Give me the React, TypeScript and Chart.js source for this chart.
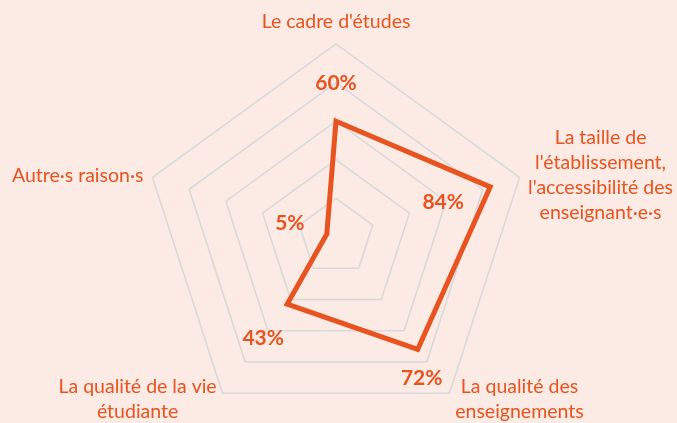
import React, { useEffect, useRef } from "react";
import { Chart, registerables } from "chart.js";

Chart.register(...registerables);

const categories: string[][] = [
  ["Le cadre d'études"],
  ["La taille de", "l'établissement,", "l'accessibilité des", "enseignant·e·s"],
  ["La qualité des", "enseignements"],
  ["La qualité de la vie", "étudiante"],
  ["Autre·s raison·s"],
];
const values: number[] = [60, 84, 72, 43, 5];
const scaleMin = 0;
const scaleMax = 100;
const scaleStep = 20;

const ORANGE = "#E8531F";
const BG = "#FCEAE4";
const GRID = "#D8D9DB";
const FONT = "Lato, 'Noto Sans', sans-serif";

// label placement (styling, not data)
const catOffsets = [
  { dx: 0, dy: -22, align: "center" },
  { dx: 81, dy: -2.5, align: "center" },
  { dx: 70, dy: 6.5, align: "center" },
  { dx: -85, dy: 6.5, align: "center" },
  { dx: -9, dy: -2, align: "right" },
];
const valOffsets = [
  { dx: 0, dy: -38 },
  { dx: -47, dy: 15 },
  { dx: 4, dy: 29 },
  { dx: -24, dy: 34 },
  { dx: -37, dy: -11 },
];

const labelPlugin = {
  id: "customLabels",
  afterDatasetsDraw(chart: any) {
    const ctx = chart.ctx;
    const scale = chart.scales.r;
    ctx.save();
    ctx.fillStyle = ORANGE;
    ctx.textBaseline = "middle";
    ctx.font = `19.5px ${FONT}`;
    const lh = 25;
    categories.forEach((lines, i) => {
      const p = scale.getPointPosition(i, scale.drawingArea);
      const o = catOffsets[i];
      ctx.textAlign = o.align;
      const cy = p.y + o.dy;
      const top = cy - ((lines.length - 1) * lh) / 2;
      lines.forEach((t, j) => ctx.fillText(t, p.x + o.dx, top + j * lh));
    });
    ctx.font = `bold 21px ${FONT}`;
    ctx.textAlign = "center";
    const meta = chart.getDatasetMeta(0);
    meta.data.forEach((pt: any, i: number) => {
      const o = valOffsets[i];
      ctx.fillText(values[i] + "%", pt.x + o.dx, pt.y + o.dy);
    });
    ctx.restore();
  },
};

const bgPlugin = {
  id: "bg",
  beforeDraw(chart: any) {
    const ctx = chart.ctx;
    ctx.save();
    ctx.fillStyle = BG;
    ctx.fillRect(0, 0, chart.width, chart.height);
    ctx.restore();
  },
};

export default function App() {
  const ref = useRef<HTMLCanvasElement>(null);
  useEffect(() => {
    document.documentElement.style.overflow = "hidden";
    document.body.style.margin = "0";
    document.body.style.overflow = "hidden";
    document.body.style.background = BG;
    const chart = new Chart(ref.current!, {
      type: "radar",
      data: {
        labels: categories,
        datasets: [
          {
            data: values,
            borderColor: ORANGE,
            borderWidth: 5,
            backgroundColor: "transparent",
            fill: false,
            pointRadius: 0,
            pointHoverRadius: 0,
          },
        ],
      },
      options: {
        animation: false,
        responsive: false,
        maintainAspectRatio: false,
        layout: { padding: { left: 143, right: 148, top: 44, bottom: 0 } },
        plugins: { legend: { display: false }, tooltip: { enabled: false } },
        scales: {
          r: {
            min: scaleMin,
            max: scaleMax,
            ticks: { display: false, stepSize: scaleStep },
            angleLines: { display: false },
            grid: { color: GRID, lineWidth: 1.5 },
            pointLabels: { display: false },
          },
        },
      },
      plugins: [bgPlugin, labelPlugin],
    });
    return () => chart.destroy();
  }, []);
  return (
    <div
      style={{
        position: "absolute",
        left: 0,
        top: 0,
        width: 677,
        height: 423,
        overflow: "hidden",
        background: BG,
      }}
    >
      <canvas ref={ref} width={677} height={430} style={{ display: "block" }} />
    </div>
  );
}
